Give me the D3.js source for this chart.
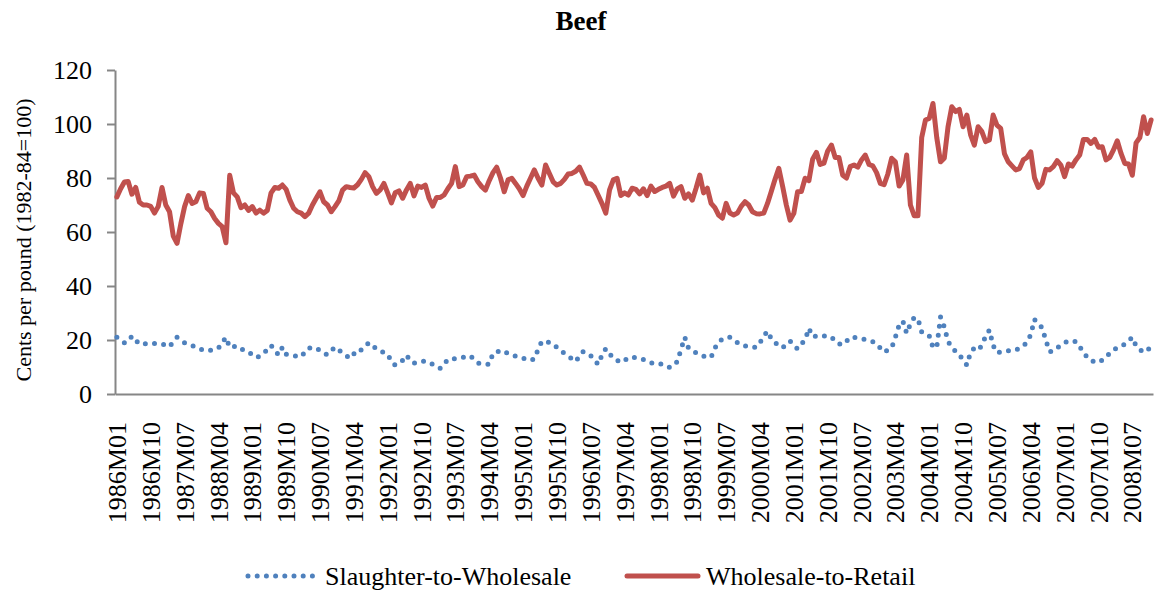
<!DOCTYPE html>
<html>
<head>
<meta charset="utf-8">
<script src="https://cdn.jsdelivr.net/npm/d3@7"></script>
<style>
  body { margin: 0; background: #fff; }
  svg { display: block; font-family: "Liberation Serif", "Times New Roman", serif; }
</style>
</head>
<body>
<svg id="chart" width="1156" height="592"></svg>
<script>
// months 1986M01 .. 2008M12
const years = d3.range(1986, 2009);
const months = ["01","02","03","04","05","06","07","08","09","10","11","12"];
const categories = [];
years.forEach((y) => { months.forEach((m) => { categories.push(y + "M" + m); }); });

const tickLabels = ["1986M01","1986M10","1987M07","1988M04","1989M01","1989M10","1990M07","1991M04",
  "1992M01","1992M10","1993M07","1994M04","1995M01","1995M10","1996M07","1997M04","1998M01","1998M10",
  "1999M07","2000M04","2001M01","2001M10","2002M07","2003M04","2004M01","2004M10","2005M07","2006M04",
  "2007M01","2007M10","2008M07"];

const yTicks = [0, 20, 40, 60, 80, 100, 120];

// Wholesale-to-Retail spread (cents per pound)
const wholesaleToRetail = [
  73, 76, 78.5, 78.7, 74, 76.5, 71, 70, 70, 69.5, 67, 69.5,
  76.5, 70, 67.5, 58.5, 55.8, 63, 69.4, 73.5, 70.6, 71.2, 74.5, 74.3,
  68.8, 67.5, 65, 63.2, 62, 56, 81, 74.5, 73, 69, 70, 68,
  69.4, 67, 68.1, 67, 68, 74.5, 76.5, 76.2, 77.4, 75.8, 71.8, 68.8,
  67.5, 67, 65.7, 67, 70, 72.5, 74.9, 71.2, 70, 67.5, 69.4, 71.5,
  75.5, 76.8, 76.5, 76.3, 77.5, 79.5, 82, 80.5, 76.8, 74.3, 75.6, 78,
  74.5, 70.8, 74.5, 75.2, 72.5, 75.6, 78, 73.4, 77, 76.5, 77.4, 72.5,
  69.6, 72.8, 72.8, 73.7, 76, 78, 84.2, 76.8, 77.4, 80.5, 80.7, 81.1,
  78.6, 76.8, 75.5, 79, 82, 84, 80, 74.9, 79.3, 79.9, 78, 76,
  73.5, 77, 80, 83, 79.9, 77.4, 84.8, 81.7, 78.6, 77.4, 78, 79.5,
  81.5, 81.7, 82.5, 84, 81.1, 78, 77.8, 76.5, 73.5, 70.5, 67, 75.6,
  79.3, 79.9, 73.5, 74.5, 73.7, 76.2, 75.8, 74.1, 76, 73.5, 77, 75,
  75.8, 76.5, 77, 78, 73.3, 76, 76.8, 72.5, 74.1, 71.8, 76.2, 81.1,
  74.5, 76.2, 70.6, 69, 66.3, 65.1, 70.6, 67, 66.3, 67, 69.5, 71.2,
  70, 67.5, 66.8, 66.7, 67, 70.6, 75, 79.5, 83.6, 77, 70, 64.4,
  66.9, 74.9, 75, 79.9, 79, 87, 89.5, 85, 85.5, 90, 92.2, 87.6,
  87.6, 81, 80, 84.2, 84.8, 84, 86.7, 88.5, 85, 84.5, 82, 78,
  77.5, 81.5, 87.3, 86, 77, 79.3, 88.5, 70, 66, 66, 95, 101.5,
  102.1, 107.6, 95, 86, 87.3, 99, 106.4, 104.6, 105.4, 99, 103.3, 96,
  92.2, 99, 97.2, 93.5, 94.1, 103.3, 99.6, 98.4, 89, 86, 84.5, 83,
  83.5, 86.7, 87.6, 89.7, 80, 76.5, 78, 83.2, 83, 84.2, 86.4, 84.8,
  80.5, 85.2, 84.4, 86.7, 88.5, 94.3, 94.3, 92.8, 94.3, 91.4, 91.6, 86.7,
  87.6, 90.4, 93.8, 89.1, 85.4, 85.2, 81, 93, 95, 102.7, 96.5, 101.5
];

// Slaughter-to-Wholesale spread (cents per pound)
const slaughterToWholesale = [
  21, 20, 19, 19.5, 21.5, 20, 18.5, 18.5, 18.7, 18.8, 18.7, 18.6,
  18.5, 18, 17.5, 19.5, 21, 20, 19, 18.5, 18, 17.3, 16.7, 16.3,
  16, 16.2, 16.6, 17, 19, 21, 17.3, 17.5, 17.8, 16.8, 16, 15.6,
  14.5, 13.5, 14, 15, 16.5, 18, 16, 14.5, 17.3, 14.7, 14.5, 14.2,
  14, 13.8, 15.5, 17, 17.1, 17.1, 16, 15, 14.6, 16, 17.4, 16.3,
  15.3, 14.2, 13.2, 14.8, 16.5, 16.3, 17.5, 19, 18, 16.7, 16, 15.3,
  14.8, 12, 10.7, 11.5, 12.5, 14.4, 12.5, 11.4, 11.8, 12, 12.2, 11.5,
  11, 10, 9.5, 11, 12.8, 13, 13.1, 13.2, 13.5, 14, 14.1, 12.8,
  11.5, 11.2, 11, 11, 15, 15.5, 16.2, 15.8, 15, 14.4, 14, 13.5,
  13.2, 12.8, 12.4, 13, 16.5, 19.5, 19.5, 19, 18.6, 17.2, 16.2, 15,
  14.1, 13, 12, 14, 15.7, 15, 14.2, 12.5, 11, 14.5, 16.8, 15,
  13.2, 12.5, 11.7, 12.5, 13.3, 13.8, 13.4, 13, 12.8, 12.2, 11.6, 11.1,
  11.1, 11.1, 10.5, 9.8, 10.8, 12, 16.5, 21, 17, 16, 15.3, 14.6,
  14, 13.8, 13.6, 17, 19, 20.5, 20.8, 21, 20.2, 19, 18.1, 17.8,
  17.5, 17.4, 17.3, 19, 21.5, 23.3, 20.5, 19, 18, 17.1, 18.5, 19.6,
  18, 16.7, 18.5, 20, 24.3, 21.2, 21.4, 21.7, 21.5, 21.3, 21.2, 19.5,
  18.6, 18.2, 19.5, 21, 21, 20.8, 20.5, 20.2, 19.8, 19.4, 18.6, 17,
  15.5, 16.3, 17, 21, 25.5, 27, 22.5, 26, 28.3, 27.8, 23, 22.5,
  21.6, 17.3, 17.3, 28.5, 24.9, 19.5, 17.3, 15.8, 14.6, 12.5, 10.7, 15.5,
  17, 16.3, 18, 21.5, 23.7, 18, 15.3, 15.5, 15.8, 16, 16.1, 16.2,
  17, 18, 19, 22, 27.6, 26, 24.6, 20, 15.7, 15.9, 17, 18.2,
  19, 19.7, 19.5, 19.4, 17.5, 15.5, 13.5, 12.3, 12, 11.7, 12.6, 13.6,
  15.2, 16.5, 17, 17.6, 18.5, 19.7, 21, 17.8, 16.5, 15.4, 16.4, 17.1
];

const series = [
  { name: "Slaughter-to-Wholesale", values: slaughterToWholesale, color: "#4F81BD", dotted: true },
  { name: "Wholesale-to-Retail", values: wholesaleToRetail, color: "#C0504D", dotted: false }
];

const axisColor = "#868686";
const svg = d3.select("#chart");

const xScale = d3.scaleBand().domain(categories).range([115, 1153]).padding(0);
const yScale = d3.scaleLinear().domain([0, 120]).range([394, 70]);
const cx = (c) => xScale(c) + xScale.bandwidth() / 2;

// dotted vs solid stroke style, shared by plot and legend
const styleStroke = function(sel, s) {
  sel.attr("stroke", s.color).attr("stroke-linecap", "round");
  if (s.dotted) {
    sel.attr("stroke-width", 5).attr("stroke-dasharray", "0 9.2");
  } else {
    sel.attr("stroke-width", 5);
  }
}

// title
svg.append("text")
  .attr("x", 581).attr("y", 30)
  .attr("text-anchor", "middle")
  .attr("font-size", 27).attr("font-weight", "bold")
  .text("Beef");

// y axis
const yAxis = d3.axisLeft(yScale).tickValues(yTicks).tickSize(8).tickSizeOuter(0).tickPadding(15);
const gy = svg.append("g").attr("transform", "translate(115,0)").call(yAxis);
gy.attr("font-family", null);
gy.selectAll("text").attr("font-size", 26).attr("fill", "#000").attr("dy", "0.33em");
gy.selectAll("line").attr("stroke", axisColor).attr("stroke-width", 2);
gy.select(".domain").attr("stroke", axisColor).attr("stroke-width", 2);

svg.append("text")
  .attr("transform", "translate(31,240) rotate(-90)")
  .attr("text-anchor", "middle")
  .attr("font-size", 22)
  .text("Cents per pound (1982-84=100)");

// x axis
const xAxis = d3.axisBottom(xScale).tickValues(tickLabels).tickSize(0).tickSizeOuter(0);
const gx = svg.append("g").attr("transform", "translate(0,394)").call(xAxis);
gx.attr("font-family", null);
gx.select(".domain").attr("stroke", axisColor).attr("stroke-width", 2);
gx.selectAll("text")
  .attr("font-size", 26).attr("fill", "#000")
  .attr("text-anchor", "end")
  .attr("transform", "rotate(-90)")
  .attr("x", -28).attr("y", 0).attr("dy", "0.35em");

// lines
const line = d3.line()
  .x((d, i) => cx(categories[i]))
  .y((d) => yScale(d));

series.forEach((s) => {
  svg.append("path")
    .attr("d", line(s.values))
    .attr("fill", "none")
    .attr("stroke-linejoin", "round")
    .call(styleStroke, s);
});

// legend
const legendItems = [
  { s: series[0], x1: 248, x2: 317, tx: 325 },
  { s: series[1], x1: 627, x2: 698, tx: 706 }
];
legendItems.forEach((it) => {
  const g = svg.append("g");
  g.append("line")
    .attr("x1", it.x1).attr("x2", it.x2).attr("y1", 576).attr("y2", 576)
    .call(styleStroke, it.s);
  g.append("text")
    .attr("x", it.tx).attr("y", 585)
    .attr("font-size", 26)
    .text(it.s.name);
});
</script>
</body>
</html>
